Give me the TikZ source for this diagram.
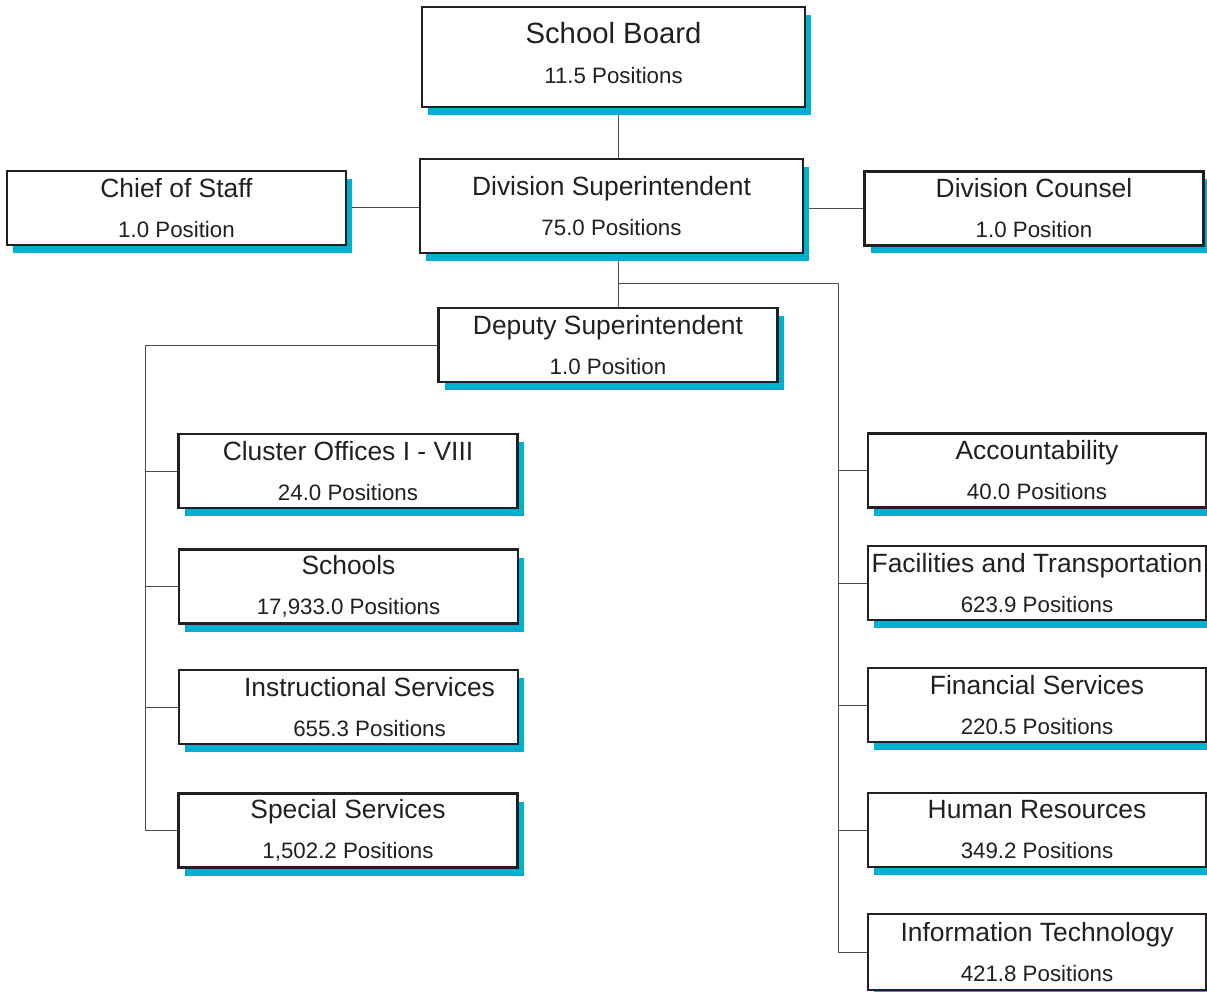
\documentclass[tikz,border=0pt]{standalone}
\usepackage{fontspec}
\setmainfont{Liberation Sans}
\usetikzlibrary{shadows,backgrounds}
\definecolor{shadowblue}{RGB}{0,176,208}
\definecolor{ink}{RGB}{35,31,32}
\newcommand{\post}[2]{{\fontsize{26.4}{30}\selectfont #1}\\#2}

\begin{document}
\begin{tikzpicture}[x=1pt,y=-1pt,
    box/.style={draw=ink,line width=2.4pt,fill=white,align=center,inner sep=0pt,
      text=ink,font=\fontsize{22.3}{40}\selectfont,
      minimum width=339pt,minimum height=74pt,
      drop shadow={shadow xshift=6pt,shadow yshift=-8pt,fill=shadowblue,opacity=1}},
    link/.style={draw=ink!80,line width=1pt}
                   ]
    \useasboundingbox (0,0) rectangle (1207,992);

    % top of the chart
    \node[box,minimum width=383pt,minimum height=100pt,text depth=9pt](sb) at (613.5,57)
      {{\fontsize{29.3}{30}\selectfont School Board}\\11.5 Positions};
    \node[box,minimum width=383pt,minimum height=94pt](dsup) at (611.5,206)
      {\post{Division Superintendent}{75.0 Positions}};
    \node[box](cos) at (176.5,208) {\post{Chief of Staff}{1.0 Position}};
    \node[box](dc) at (1034,208.5) {\post{Division Counsel}{1.0 Position}};
    \node[box](dep) at (608,345) {\post{Deputy Superintendent}{1.0 Position}};

    % left column
    \node[box](clu) at (348,471) {\post{Cluster Offices I - VIII}{24.0 Positions}};
    \node[box](sch) at (348.5,586.5) {\post{Schools}{17,933.0 Positions}};
    \node[box](ins) at (348.5,707)
      {\post{\hspace*{42pt}Instructional Services}{\hspace*{42pt}655.3 Positions}};
    \node[box](spe) at (348,830.5) {\post{Special Services}{1,502.2 Positions}};

    % right column
    \node[box,minimum width=338pt](acc) at (1037,470.5) {\post{Accountability}{40.0 Positions}};
    \node[box,minimum width=338pt](fac) at (1037,583) {\post{Facilities and Transportation}{623.9 Positions}};
    \node[box,minimum width=338pt](fin) at (1037,705) {\post{Financial Services}{220.5 Positions}};
    \node[box,minimum width=338pt](hr) at (1037,830) {\post{Human Resources}{349.2 Positions}};
    \node[box,minimum width=338pt,minimum height=76pt](it) at (1037,952) {\post{Information Technology}{421.8 Positions}};

    \coordinate (spine) at (618,284);
    \coordinate (rb) at (838,284);
    \coordinate (lb) at (145,345);

    \begin{scope}[on background layer]
    \path[link] (spine |- sb.south) -- (spine |- dsup.north)
      (cos.east) -- (cos.east -| dsup.west)
      (dc.west -| dsup.east) -- (dc.west)
      (spine |- dsup.south) -- (spine |- dep.north)
      (spine) -- (rb) -- (rb |- it.west)
      (dep.west) -- (lb) -- (lb |- spe.west);
    \foreach \n in {clu,sch,ins,spe}
      \draw[link] (lb |- \n.west) -- (\n.west);
    \foreach \n in {acc,fac,fin,hr,it}
      \draw[link] (rb |- \n.west) -- (\n.west);
    \end{scope}

\end{tikzpicture}
\end{document}
